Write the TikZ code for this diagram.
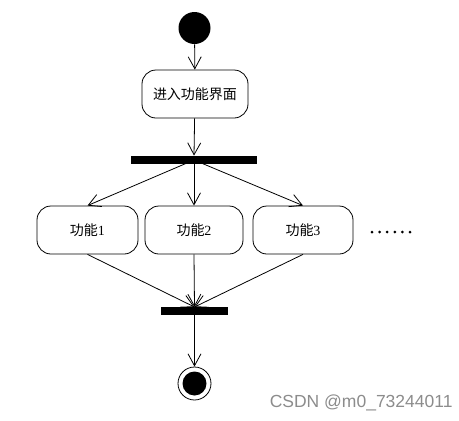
\documentclass[tikz,border=0pt]{standalone}
\usepackage{fontspec}
\setmainfont{Liberation Serif}
\newfontfamily\cjk{Noto Sans CJK SC}
\newfontfamily\wmfont{Liberation Sans}
\usetikzlibrary{arrows.meta}
\begin{document}
\begin{tikzpicture}[x=1pt,y=-1pt,
  every path/.style={line width=0.8pt},
  flow/.style={-{Straight Barb[length=12pt,width=13pt,line width=0.8pt]}},
  actbox/.style={draw,rounded corners=14pt,minimum height=48pt,inner sep=0pt,font=\fontsize{14}{16}\selectfont},
  barbox/.style={fill=black,inner sep=0pt,minimum height=8pt},
  dotmark/.style={circle,fill=black,inner sep=0pt,minimum size=3pt}]
\useasboundingbox (0,0) rectangle (459,421);
\node[circle,fill=black,minimum size=32pt,inner sep=0pt] (start) at (194.5,28) {};
\node[actbox,minimum width=106pt] (enter) at (195,94) {{\cjk 进入功能界面}};
\node[barbox,minimum width=126pt] (fork) at (194,160) {};
\node[actbox,minimum width=101pt] (f1) at (87.5,230) {{\cjk 功能}1};
\node[actbox,minimum width=98pt] (f2) at (194,230) {{\cjk 功能}2};
\node[actbox,minimum width=100pt] (f3) at (303,230) {{\cjk 功能}3};
\foreach \i in {0,...,5} \node[dotmark] (dot\i) at (372+7.6*\i,232) {};
\node[barbox,minimum width=67pt] (join) at (194.5,311) {};
\node[circle,draw,minimum size=33pt,inner sep=0pt] (end) at (194.5,383.5) {};
\node[circle,fill=black,minimum size=24pt,inner sep=0pt] at (end.center) {};
\node[font=\wmfont\fontsize{17.5}{19}\selectfont,text=black!45,anchor=east,inner sep=0pt] (wm) at (453,403) {CSDN @m0\_73244011};
\coordinate (fc) at (194,160);
\coordinate (jc) at (194.5,307);
\draw[flow] (start) -- (enter);
\draw[flow] (enter) -- (fork.north);
\draw[flow] (fc) -- (f1.north);
\draw[flow] (fc) -- (f2.north);
\draw[flow] (fc) -- (f3.north);
\draw[flow] (f1.south) -- (jc);
\draw[flow] (f2.south) -- (jc);
\draw[flow] (f3.south) -- (jc);
\draw[flow] (join.south) -- (end.north);
\end{tikzpicture}
\end{document}
